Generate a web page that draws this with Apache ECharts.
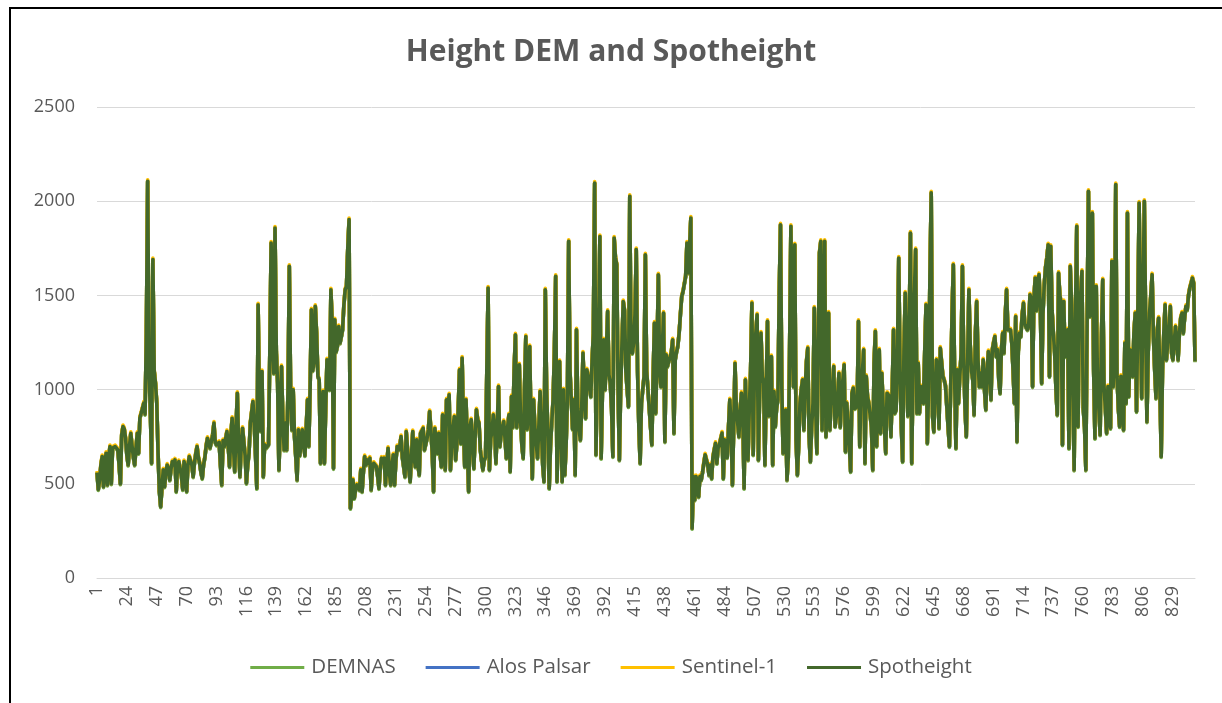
<!DOCTYPE html>
<html>
<head>
<meta charset="utf-8">
<script src="https://cdn.jsdelivr.net/npm/echarts@6/dist/echarts.min.js"></script>
<style>
  html, body { margin: 0; padding: 0; background: #fff; }
  #frame { position: absolute; left: 9px; top: 7px; width: 1213px; height: 696px; border-top: 2px solid #000; border-left: 2px solid #000; }
  #chart { position: absolute; left: 0; top: 0; width: 1222px; height: 703px; }
</style>
</head>
<body>
<div id="frame"></div>
<div id="chart"></div>
<script>
// heights, one per point (846 points)
const spotheight = [
  560,470,520,600,645,485,600,662,494,640,
  698,500,690,680,698,690,680,600,500,760,
  804,790,740,650,600,700,768,700,640,600,
  690,768,662,850,875,901,928,870,1300,2106,
  1100,900,609,1690,1100,1034,928,662,460,379,
  480,574,485,560,600,580,520,580,618,600,
  627,459,600,618,609,540,470,618,580,460,
  600,645,654,600,538,610,660,698,640,609,
  560,529,600,640,700,742,715,690,698,760,
  822,720,707,715,720,600,494,730,698,740,
  777,700,591,760,848,700,565,800,981,700,
  538,700,795,790,650,503,600,662,822,880,
  937,822,650,476,1450,900,780,1096,538,707,
  690,680,707,1200,1778,1300,1087,1858,1200,1034,
  574,800,1123,850,680,822,680,1000,1654,1000,
  786,999,750,640,521,786,650,700,786,720,
  650,800,946,700,1000,1424,1100,1140,1442,1300,
  1070,1052,609,800,990,609,900,1158,1100,999,
  1530,1350,582,1371,1200,1230,1335,1247,1280,1318,
  1450,1530,1548,1750,1902,370,440,521,423,470,
  494,480,468,574,459,560,645,600,627,610,
  636,468,580,609,600,591,540,476,580,636,
  620,636,494,600,689,560,494,600,654,494,
  620,698,680,700,751,640,591,538,777,680,
  574,512,650,777,640,591,733,600,547,768,
  760,795,680,680,740,786,884,780,662,459,
  795,720,662,768,660,591,866,700,574,946,
  900,972,574,700,800,857,627,714,900,1105,
  714,1167,800,591,946,700,459,804,840,700,
  582,750,893,840,822,680,620,574,627,640,
  1100,1539,574,740,780,866,800,609,800,1016,
  698,760,800,830,740,636,800,866,565,963,
  800,1100,1291,800,900,1132,830,700,636,1000,
  1282,790,900,1229,800,529,946,800,790,636,
  800,990,800,600,512,1530,1000,760,476,700,
  830,946,1200,1601,512,800,1149,800,512,999,
  547,700,946,1787,1100,946,790,946,547,1318,
  900,786,733,900,1194,1000,848,1105,1070,1070,
  963,1150,1300,2097,654,1105,1300,1813,636,1000,
  1264,999,1200,1415,1079,1034,900,645,1805,1700,
  1663,999,627,1000,1247,1468,1420,1100,999,910,
  2026,1211,1194,1247,1400,1743,1100,800,609,928,
  1000,1070,1716,1100,1100,900,800,707,1070,1353,
  875,1200,1610,1100,1016,1200,1406,724,1185,1123,
  1150,1170,1200,1264,769,1158,1200,1230,1300,1400,
  1495,1521,1530,1600,1778,1619,1750,1911,264,538,
  414,538,500,432,538,520,560,609,654,654,
  600,547,600,529,640,680,715,609,690,707,
  740,769,529,733,700,640,800,946,790,494,
  800,1140,900,900,750,900,981,860,476,1052,
  800,627,900,1100,1459,654,1123,1300,1397,627,
  1000,1300,1070,1034,600,1000,1362,860,1000,1176,
  600,990,804,900,946,1500,1875,1016,662,800,
  892,521,640,1200,1867,1300,1016,1769,730,547,
  700,928,1000,1052,786,1000,1150,1220,750,618,
  800,928,1433,928,662,1200,1725,1787,786,1300,
  1787,750,1000,1406,786,946,1000,1123,804,860,
  960,1087,800,963,1050,1132,671,928,822,700,
  565,981,1008,900,910,910,1362,698,1000,1087,
  1211,609,1070,960,928,928,800,574,1140,1309,
  700,1000,1211,769,1087,900,800,662,981,980,
  963,751,1000,1318,875,893,1200,1698,1100,800,
  618,1200,1512,1521,860,1300,1831,609,1105,1500,
  1743,875,1140,875,1016,960,928,1200,1450,715,
  1016,1600,2044,860,777,1000,1158,1034,795,1220,
  1210,1070,1050,1020,1016,800,698,1016,1400,1663,
  1070,689,1105,928,1070,1190,1654,1170,900,751,
  1140,1530,1240,1100,1050,866,1300,1468,1158,1016,
  1087,1016,1158,1000,893,1100,1202,1100,946,1211,
  1250,1282,1176,1211,1050,981,1211,1300,1194,1400,
  1530,1318,1310,1318,1247,1100,928,1388,724,1200,
  1300,1282,1400,1459,1350,1330,1318,1336,1503,1480,
  1016,1480,1592,1420,1580,1610,1420,1034,1400,1560,
  1650,1700,1769,1070,1760,1420,1300,1194,1000,866,
  1619,1500,1460,707,1468,1176,1250,1318,689,1654,
  1450,1000,574,1400,1867,804,1480,1500,1628,900,
  800,574,1388,2053,1388,1500,1937,1100,742,1548,
  1016,900,760,1282,1583,1016,900,769,1016,900,
  795,1681,1016,1200,2088,1070,900,804,1070,963,
  786,1247,928,1937,963,1211,1100,1070,1300,1406,
  884,1400,1990,1406,955,1500,1999,1370,830,1200,
  1406,1500,1610,1282,1100,955,1318,1380,1000,645,
  1105,1300,1450,1158,1250,1318,1442,1194,1158,1250,
  1335,1326,1158,1300,1380,1406,1300,1380,1442,1424,
  1500,1539,1565,1592,1565,1150
]
// the three DEM lines sit under Spotheight and cannot be told apart from it at this scale
const demnas = spotheight
const alosPalsar = spotheight
const sentinel1 = spotheight

const categories = spotheight.map((v, i) => String(i + 1))
const yTicks = { min: 0, max: 2500, interval: 500 }

const txt = '#595959'
const font = '"Open Sans", sans-serif'
const chart = echarts.init(document.getElementById('chart'))

const line = (name, data, color, extra) => ({
  name, type: 'line', data, showSymbol: false, sampling: 'none',
  lineStyle: Object.assign({ color, width: 3.6, join: 'round' }, extra || {}),
  itemStyle: { color }
})

chart.setOption({
  animation: false,
  title: {
    text: 'Height DEM and Spotheight', left: 'center', top: 32,
    textStyle: { color: txt, fontSize: 30, fontWeight: 'bold', fontFamily: font }
  },
  legend: {
    bottom: 20, left: 'center', icon: 'rect', itemWidth: 54, itemHeight: 3, itemGap: 30,
    textStyle: { color: txt, fontSize: 20.5, fontFamily: font, padding: [0, 0, 0, 2] },
    data: ['DEMNAS', 'Alos Palsar', 'Sentinel-1', 'Spotheight']
  },
  grid: { left: 97, right: 27, top: 107, bottom: 125 },
  xAxis: {
    type: 'category', data: categories, boundaryGap: false,
    axisLine: { lineStyle: { color: '#D9D9D9' } },
    axisTick: { show: false },
    axisLabel: { interval: 22, rotate: 90, color: txt, fontSize: 18, fontFamily: font, margin: 8 }
  },
  yAxis: {
    type: 'value', min: yTicks.min, max: yTicks.max, interval: yTicks.interval,
    axisLine: { show: false }, axisTick: { show: false },
    axisLabel: { color: txt, fontSize: 18, fontFamily: font, margin: 22, formatter: v => String(v) },
    splitLine: { lineStyle: { color: '#D9D9D9', width: 1 } }
  },
  series: [
    line('DEMNAS', demnas, '#70AD47', { shadowColor: '#70AD47', shadowBlur: 0, shadowOffsetY: 1 }),
    line('Alos Palsar', alosPalsar, '#4472C4'),
    line('Sentinel-1', sentinel1, '#FFC000', { shadowColor: '#FFC000', shadowBlur: 0, shadowOffsetY: -1.5 }),
    line('Spotheight', spotheight, '#43682B')
  ]
})
</script>
</body>
</html>
